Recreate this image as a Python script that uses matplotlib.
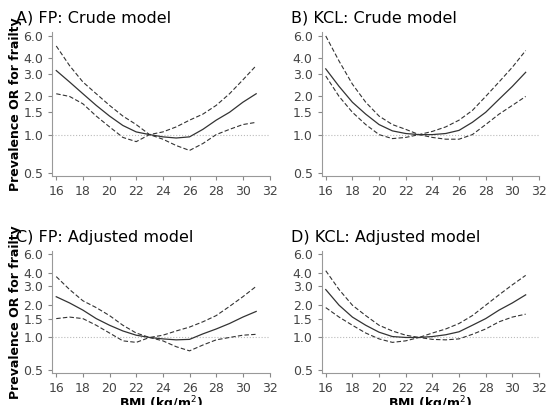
import matplotlib
matplotlib.use("Agg")
import matplotlib.pyplot as plt
import numpy as np

bmi = [16,17,18,19,20,21,22,23,24,25,26,27,28,29,30,31]
titles = ["A) FP: Crude model", "B) KCL: Crude model", "C) FP: Adjusted model", "D) KCL: Adjusted model"]
a_est = [3.2,2.6,2.1,1.7,1.4,1.18,1.05,1.0,0.96,0.94,0.96,1.1,1.3,1.5,1.8,2.1]
a_up = [5.0,3.5,2.6,2.1,1.7,1.4,1.2,1.0,1.05,1.15,1.3,1.45,1.7,2.1,2.7,3.5]
a_lo = [2.1,2.0,1.75,1.4,1.15,0.95,0.88,1.0,0.92,0.82,0.75,0.85,1.0,1.1,1.2,1.25]
b_est = [3.3,2.4,1.8,1.45,1.2,1.07,1.02,1.0,1.0,1.02,1.08,1.25,1.5,1.9,2.4,3.1]
b_up = [6.0,3.8,2.5,1.8,1.4,1.2,1.1,1.0,1.06,1.15,1.3,1.55,2.0,2.6,3.4,4.6]
b_lo = [2.9,2.0,1.5,1.2,1.0,0.93,0.95,1.0,0.95,0.92,0.92,1.0,1.2,1.45,1.7,2.0]
c_est = [2.4,2.1,1.8,1.5,1.3,1.15,1.05,1.0,0.97,0.95,0.96,1.08,1.2,1.35,1.55,1.75]
c_up = [3.7,2.8,2.2,1.9,1.6,1.3,1.1,1.0,1.05,1.15,1.25,1.4,1.6,1.95,2.4,3.0]
c_lo = [1.5,1.55,1.5,1.3,1.1,0.93,0.9,1.0,0.93,0.82,0.75,0.85,0.95,1.0,1.05,1.07]
d_est = [2.8,2.0,1.55,1.3,1.12,1.02,1.0,1.0,1.02,1.06,1.13,1.3,1.5,1.8,2.1,2.5]
d_up = [4.2,2.8,2.0,1.6,1.3,1.15,1.05,1.0,1.1,1.2,1.35,1.6,2.0,2.5,3.1,3.8]
d_lo = [1.9,1.55,1.3,1.1,0.97,0.9,0.93,1.0,0.96,0.95,0.97,1.07,1.2,1.4,1.55,1.65]
series = [(a_est,a_up,a_lo),(b_est,b_up,b_lo),(c_est,c_up,c_lo),(d_est,d_up,d_lo)]
yticks = [0.5,1.0,1.5,2.0,3.0,4.0,6.0]
xticks = [16,18,20,22,24,26,28,30,32]

fig = plt.figure(figsize=(5.5,4.05), dpi=100)
pos = [(0.095,0.565,0.395,0.355),(0.585,0.565,0.395,0.355),
       (0.095,0.08,0.395,0.30),(0.585,0.08,0.395,0.30)]
for i,(p,t,(e,u,l)) in enumerate(zip(pos,titles,series)):
    ax = fig.add_axes(p)
    ax.set_yscale('log')
    ax.axhline(1.0, color='#bbbbbb', lw=0.8, ls=':')
    ax.plot(bmi, e, color='#333333', lw=0.9)
    ax.plot(bmi, u, color='#333333', lw=0.8, ls=(0,(4,2)))
    ax.plot(bmi, l, color='#333333', lw=0.8, ls=(0,(4,2)))
    ax.set_ylim(0.47,6.4)
    ax.set_xlim(15.7,32)
    ax.set_yticks(yticks)
    ax.set_yticklabels([f"{v:.1f}" for v in yticks])
    ax.yaxis.set_minor_locator(matplotlib.ticker.NullLocator())
    ax.set_xticks(xticks)
    ax.tick_params(labelsize=9, colors='#444444', length=3, color='#888888')
    for s in ['top','right']:
        ax.spines[s].set_visible(False)
    for s in ['left','bottom']:
        ax.spines[s].set_color('#999999')
    ax.text(-0.165 if i%2==0 else -0.14, 1.05, t, transform=ax.transAxes, fontsize=11.5, ha='left', va='bottom')
    if i%2==0:
        ax.set_ylabel("Prevalence OR for frailty", fontsize=9, fontweight='bold', labelpad=1)
    if i>=2:
        ax.set_xlabel("BMI (kg/m$^2$)", fontsize=9, fontweight='bold', labelpad=0)
fig.savefig("out.png", dpi=100)
